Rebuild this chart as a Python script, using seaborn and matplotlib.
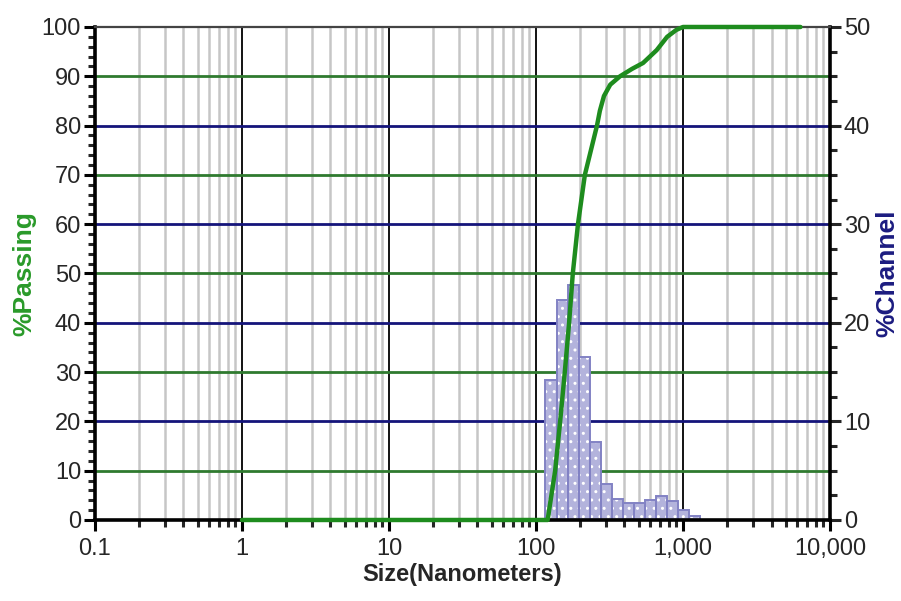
import numpy as np
import seaborn as sns
import matplotlib.pyplot as plt
from matplotlib.ticker import FixedLocator, MultipleLocator, NullFormatter

# --- data ---
size_nm = [1, 120, 135, 146, 157, 168, 178, 193, 215, 260, 272, 290, 320,
           373, 450, 535, 662, 780, 900, 1000, 6300]
passing = [0, 0, 10, 20, 30, 40, 50, 60, 70, 80, 83, 86, 88.3,
           90, 91.5, 92.7, 95.3, 98, 99.4, 100, 100]

channel_edges = [116, 138, 164, 195, 232, 276, 328, 390, 464, 552, 656,
                 780, 928, 1104, 1312]
channel_pct = [14.2, 22.3, 23.8, 16.5, 7.9, 3.7, 2.1, 1.7, 1.7, 2.0, 2.4,
               1.9, 1.0, 0.4]

x_ticks = [0.1, 1, 10, 100, 1000, 10000]
x_labels = ["0.1", "1", "10", "100", "1,000", "10,000"]

sns.set_style("white")
plt.rcParams['font.family'] = ['Liberation Sans', 'DejaVu Sans']

fig = plt.figure(figsize=(9.01, 6.01), dpi=100)
ax = fig.add_axes([0.1054, 0.1348, 0.8158, 0.8203])
ax2 = ax.twinx()
ax.set_zorder(ax2.get_zorder() + 1)
ax.patch.set_visible(False)

for a in (ax, ax2):
    a.set_xscale("log")
    a.set_xlim(0.1, 10000)
ax.set_ylim(0, 100)
ax2.set_ylim(0, 50)

# grid drawn on the lower axes so the bars sit on top of it
minor_x = [m * 10.0 ** e for e in range(-1, 4) for m in range(2, 10)]
for xv in minor_x:
    ax2.axvline(xv, color="#c6c6c6", lw=1.8, zorder=0)
for xv in x_ticks[1:-1]:
    ax2.axvline(xv, color="black", lw=1.3, zorder=0.5)
for yv in [5, 15, 25, 35, 45]:
    ax2.axhline(yv, color="#2f7a2f", lw=2.0, zorder=0.6)
for yv in [10, 20, 30, 40]:
    ax2.axhline(yv, color="#14147a", lw=2.0, zorder=0.6)

# channel histogram
edges = np.array(channel_edges, dtype=float)
widths = np.diff(edges)
ax2.bar(edges[:-1], channel_pct, width=widths, align="edge",
        color="#b3b3dc", edgecolor="white", hatch="..", linewidth=0, zorder=1)
ax2.bar(edges[:-1], channel_pct, width=widths, align="edge",
        fill=False, edgecolor="#8282c4", linewidth=1.4, zorder=1.1)

# cumulative passing curve
sns.lineplot(x=size_nm, y=passing, ax=ax, color="#1e8c1e", lw=3.2,
             zorder=4, clip_on=False)

# ticks
ax.xaxis.set_major_locator(FixedLocator(x_ticks))
ax.xaxis.set_minor_locator(FixedLocator(minor_x))
ax.set_xticklabels(x_labels)
ax.xaxis.set_minor_formatter(NullFormatter())
ax.yaxis.set_major_locator(MultipleLocator(10))
ax.yaxis.set_minor_locator(MultipleLocator(2))
ax2.yaxis.set_major_locator(MultipleLocator(10))
ax2.yaxis.set_minor_locator(MultipleLocator(2.5))
ax2.tick_params(axis="x", which="both", bottom=False, labelbottom=False)

ax.tick_params(axis="both", which="major", direction="out", length=8,
               width=2.2, labelsize=17, pad=2, color="black",
               left=True, bottom=True, right=False, top=False)
ax.tick_params(axis="both", which="minor", direction="out", length=5,
               width=2.2, left=True, bottom=True, right=False, top=False)
ax.tick_params(axis="x", which="major", pad=5)
ax2.tick_params(axis="y", which="major", direction="out", length=8,
                width=2.2, labelsize=17, pad=2, right=True)
ax2.tick_params(axis="y", which="minor", direction="out", length=5,
                width=2.2, right=True)

# spines
for s in ("left", "bottom"):
    ax.spines[s].set_linewidth(2.6)
    ax.spines[s].set_color("black")
ax.spines["right"].set_visible(False)
ax.spines["top"].set_linewidth(1.6)
ax.spines["top"].set_color("#444444")
for s in ("left", "bottom", "top"):
    ax2.spines[s].set_visible(False)
ax2.spines["right"].set_linewidth(2.6)
ax2.spines["right"].set_color("black")

ax.set_xlabel("Size(Nanometers)", fontsize=17, fontweight="bold", labelpad=2)
ax.set_ylabel("%Passing", fontsize=19, fontweight="bold", color="#2a9a2a",
              labelpad=4)
ax2.set_ylabel("%Channel", fontsize=19, fontweight="bold", color="#1c1c80",
               labelpad=4)

fig.savefig("out.png", dpi=100, facecolor="white")
